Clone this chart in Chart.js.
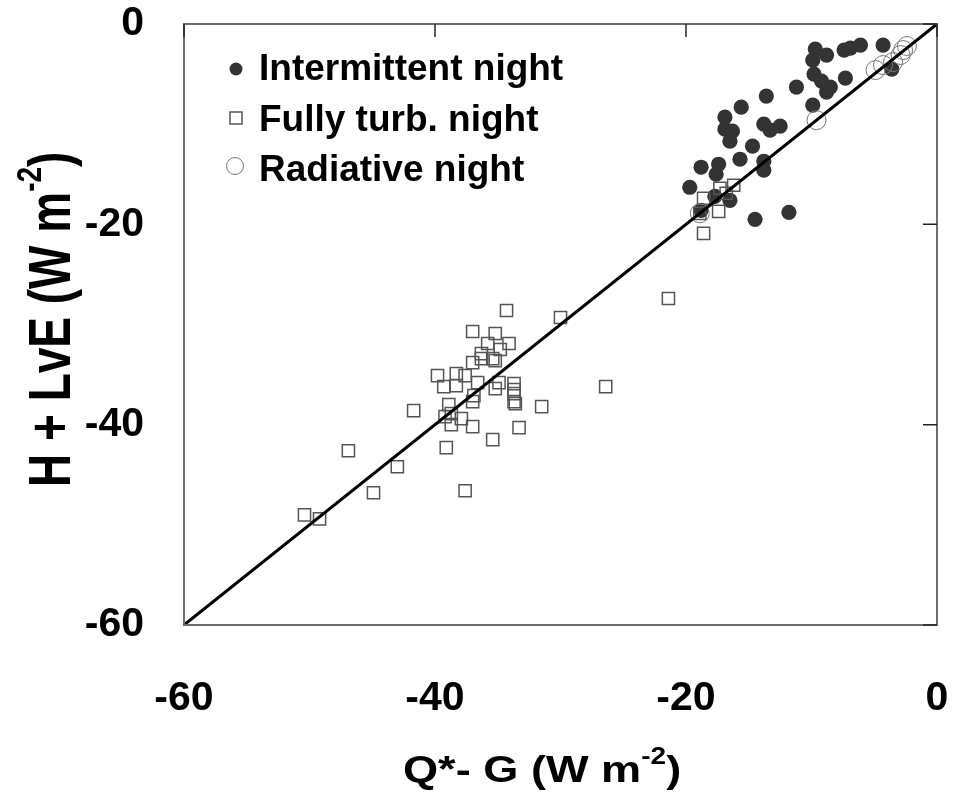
<!DOCTYPE html>
<html>
<head>
<meta charset="utf-8">
<script src="https://cdn.jsdelivr.net/npm/chart.js@4.4.0/dist/chart.umd.min.js"></script>
<style>
  html, body { margin: 0; padding: 0; background: #fff; }
  #wrap { width: 955px; height: 793px; }
</style>
</head>
<body>
<div id="wrap"><canvas id="energyChart" width="955" height="793"></canvas></div>
<script>
// Intermittent night (filled circles)
const intermX = [-9.7, -9.9, -8.8, -7.4, -6.9, -6.1, -4.3, -9.8, -9.2, -8.5, -8.8, -7.3, -11.2, -13.6, -9.9, -15.6, -16.9, -16.9, -16.3, -16.5,
    -13.8, -12.5, -13.3, -14.7, -15.7, -13.8, -13.8, -17.4, -17.6, -18.8, -19.7, -17.7, -16.5, -18.8, -14.5, -11.8, -3.6];
const intermY = [-2.5, -3.6, -3.1, -2.6, -2.4, -2.1, -2.1, -5.0, -5.7, -6.3, -6.8, -5.4, -6.3, -7.2, -8.1, -8.3, -9.3, -10.5, -10.7, -11.7,
    -10.0, -10.2, -10.6, -12.2, -13.5, -13.7, -14.6, -14.0, -15.0, -14.3, -16.3, -17.2, -17.6, -18.6, -19.5, -18.8, -4.5];

// Fully turbulent night (open squares)
const turbX = [-34.3, -30.0, -37.0, -35.2, -35.8, -34.1, -34.8, -36.3, -36.3, -35.4, -35.2, -37.0, -38.3, -37.6, -39.8, -39.3, -38.3, -36.6,
    -35.2, -34.9, -33.7, -33.7, -33.7, -33.7, -33.6, -36.9, -37.0, -31.5, -41.7, -38.9, -38.7, -39.2, -37.9, -38.7, -37.0, -33.3,
    -35.4, -39.1, -46.9, -43.0, -44.9, -37.6, -50.4, -49.2, -26.4, -21.4, -16.2, -17.3, -18.6, -17.4, -18.6, -16.8, -18.9];
const turbY = [-28.6, -29.3, -30.7, -30.9, -31.9, -31.9, -32.5, -32.9, -33.4, -33.4, -33.6, -33.8, -34.9, -35.1, -35.1, -36.2, -36.1, -35.8,
    -36.4, -35.8, -35.9, -36.5, -36.9, -37.7, -37.9, -37.1, -37.7, -38.2, -38.6, -38.0, -38.9, -39.2, -39.4, -40.0, -40.2, -40.3,
    -41.5, -42.3, -42.6, -44.2, -46.8, -46.6, -49.0, -49.4, -36.2, -27.4, -16.1, -16.4, -17.4, -18.7, -20.9, -16.9, -18.9];

// Radiative night (open circles)
const radX = [-9.6, -4.9, -4.3, -2.7, -2.4, -2.9, -3.5, -18.9];
const radY = [-9.6, -4.6, -4.1, -2.6, -2.2, -3.1, -3.8, -18.9];

// 1:1 line
const lineX = [-60, 0];
const lineY = [-60, 0];

const tickValues = [-60, -40, -20, 0];
const legendLabels = ['Intermittent night', 'Fully turb. night', 'Radiative night'];

const FONT = 'Arial, "Liberation Sans", sans-serif';

function toPoints(xs, ys) {
    return xs.map((x, i) => ({ x: x, y: ys[i] }));
}

// keep the plot box where the reference has it
function noLabelPadding(scale) {
    scale.paddingLeft = 0;
    scale.paddingRight = 0;
    scale.paddingTop = 0;
    scale.paddingBottom = 0;
}

// white background
const bgPlugin = {
    id: 'bg',
    beforeDraw(chart) {
        const ctx = chart.ctx;
        ctx.save();
        ctx.fillStyle = '#fff';
        ctx.fillRect(0, 0, chart.width, chart.height);
        ctx.restore();
    }
};

// frame plus inward ticks on top and right edges
const framePlugin = {
    id: 'frame',
    afterDraw(chart) {
        const ctx = chart.ctx;
        const a = chart.chartArea;
        const xs = chart.scales.x, ys = chart.scales.y;
        ctx.save();
        ctx.strokeStyle = '#6e6e6e';
        ctx.lineWidth = 2;
        ctx.strokeRect(a.left, a.top, a.right - a.left, a.bottom - a.top);
        ctx.strokeStyle = '#222';
        ctx.lineWidth = 1.5;
        ctx.beginPath();
        tickValues.forEach(v => {
            const px = xs.getPixelForValue(v);
            ctx.moveTo(px, a.top);
            ctx.lineTo(px, a.top + 13);
            const py = ys.getPixelForValue(v);
            ctx.moveTo(a.right, py);
            ctx.lineTo(a.right - 14, py);
        });
        ctx.stroke();
        ctx.restore();
    }
};

// text with superscript, drawn part by part
function drawParts(ctx, parts) {
    let cx = 0;
    parts.forEach(p => {
        ctx.font = 'bold ' + p.size + 'px ' + FONT;
        ctx.fillText(p.text, cx, -(p.rise || 0));
        cx += ctx.measureText(p.text).width;
    });
}

const titlePlugin = {
    id: 'axisTitles',
    afterDraw(chart) {
        const ctx = chart.ctx;
        ctx.save();
        ctx.fillStyle = '#000';
        ctx.textBaseline = 'alphabetic';
        ctx.textAlign = 'left';
        // x title
        ctx.save();
        ctx.translate(403, 782);
        ctx.scale(1.22, 1);
        drawParts(ctx, [
            { text: 'Q*- G (W m', size: 37 },
            { text: '-2', size: 23, rise: 18 },
            { text: ')', size: 37 }
        ]);
        ctx.restore();
        // y title
        ctx.save();
        ctx.translate(70, 487);
        ctx.rotate(-Math.PI / 2);
        ctx.scale(1, 1.28);
        drawParts(ctx, [
            { text: 'H + LvE (W m', size: 46 },
            { text: '-2', size: 28, rise: 23 },
            { text: ')', size: 46 }
        ]);
        ctx.restore();
        ctx.restore();
    }
};

const legendPlugin = {
    id: 'boxLegend',
    afterDraw(chart) {
        const ctx = chart.ctx;
        const rows = [80, 131, 181];
        ctx.save();
        ctx.font = 'bold 37px ' + FONT;
        ctx.fillStyle = '#000';
        ctx.textBaseline = 'alphabetic';
        legendLabels.forEach((label, i) => {
            const my = rows[i] - 13;
            ctx.beginPath();
            if (i === 0) {
                ctx.fillStyle = '#333';
                ctx.arc(236, my + 2, 6.5, 0, Math.PI * 2);
                ctx.fill();
            } else if (i === 1) {
                ctx.strokeStyle = '#555';
                ctx.lineWidth = 1.5;
                ctx.strokeRect(230, my - 6, 12, 12);
            } else {
                ctx.strokeStyle = '#777';
                ctx.lineWidth = 1;
                ctx.arc(235, my - 2, 8.5, 0, Math.PI * 2);
                ctx.stroke();
            }
            ctx.fillStyle = '#000';
            ctx.fillText(label, 259, rows[i]);
        });
        ctx.restore();
    }
};

const ctx = document.getElementById('energyChart').getContext('2d');
new Chart(ctx, {
    type: 'scatter',
    data: {
        datasets: [
            {
                label: '1:1',
                type: 'line',
                data: toPoints(lineX, lineY),
                borderColor: '#000',
                borderWidth: 3,
                pointRadius: 0,
                fill: false
            },
            {
                label: legendLabels[2],
                data: toPoints(radX, radY),
                pointStyle: 'circle',
                pointRadius: 9.5,
                backgroundColor: 'rgba(0,0,0,0)',
                borderColor: '#777',
                borderWidth: 1
            },
            {
                label: legendLabels[1],
                data: toPoints(turbX, turbY),
                pointStyle: 'rect',
                pointRadius: 8.6,
                backgroundColor: 'rgba(0,0,0,0)',
                borderColor: '#555',
                borderWidth: 1.5
            },
            {
                label: legendLabels[0],
                data: toPoints(intermX, intermY),
                pointStyle: 'circle',
                pointRadius: 7.6,
                backgroundColor: '#333',
                borderColor: '#333',
                borderWidth: 0
            }
        ]
    },
    options: {
        responsive: false,
        animation: false,
        layout: { padding: { left: 0, top: 24, right: 18, bottom: 0 } },
        plugins: {
            legend: { display: false },
            tooltip: { enabled: false },
            title: { display: false }
        },
        scales: {
            x: {
                type: 'linear',
                min: -60,
                max: 0,
                afterBuildTicks: function(scale) {
                    scale.ticks = tickValues.map(v => ({ value: v }));
                },
                afterFit: function(scale) {
                    scale.height = 168;
                    noLabelPadding(scale);
                },
                grid: { display: false, drawTicks: false },
                border: { display: false },
                ticks: {
                    font: { family: FONT, size: 41, weight: 'bold' },
                    color: '#000',
                    padding: 49,
                    maxRotation: 0
                }
            },
            y: {
                type: 'linear',
                min: -60,
                max: 0,
                afterBuildTicks: function(scale) {
                    scale.ticks = tickValues.map(v => ({ value: v }));
                },
                afterFit: function(scale) {
                    scale.width = 184;
                    noLabelPadding(scale);
                },
                grid: { display: false, drawTicks: false },
                border: { display: false },
                ticks: {
                    font: { family: FONT, size: 41, weight: 'bold' },
                    color: '#000',
                    padding: 40
                }
            }
        }
    },
    plugins: [bgPlugin, framePlugin, titlePlugin, legendPlugin]
});
</script>
</body>
</html>
